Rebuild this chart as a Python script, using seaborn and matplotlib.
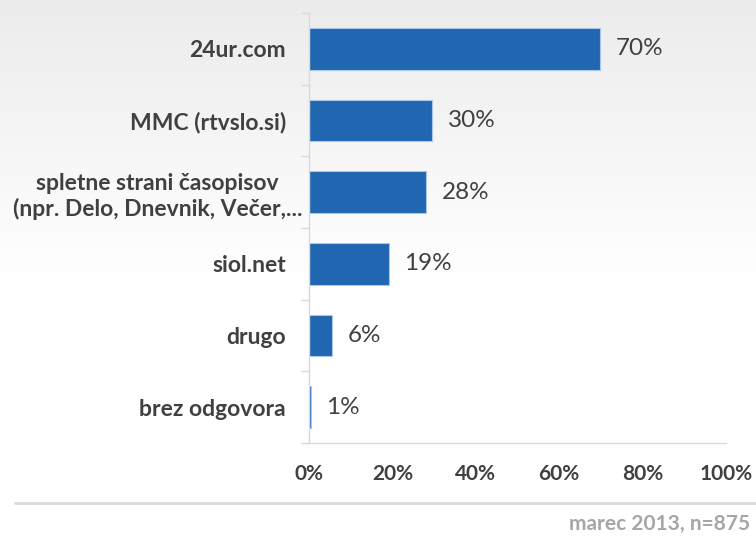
import numpy as np
import pandas as pd
import matplotlib
matplotlib.use("Agg")
import matplotlib.pyplot as plt
import seaborn as sns
from matplotlib.ticker import FixedLocator

categories = ["24ur.com", "MMC (rtvslo.si)",
              "spletne strani časopisov\n(npr. Delo, Dnevnik, Večer,...",
              "siol.net", "drugo", "brez odgovora"]
values = [69.8, 29.6, 28.1, 19.2, 5.6, 0.5]
value_labels = ["70%", "30%", "28%", "19%", "6%", "1%"]
xticks = [0, 20, 40, 60, 80, 100]
xtick_labels = ["0%", "20%", "40%", "60%", "80%", "100%"]
footer = "marec 2013, n=875"

sns.set_theme(style="white")
plt.rcParams['font.family'] = ['Lato', 'DejaVu Sans']

W, H = 756, 536
fig = plt.figure(figsize=(W / 100, H / 100), dpi=100)

# background gradient
bg = fig.add_axes([0, 0, 1, 1], zorder=-10)
n = 536
ys = np.arange(n)  # from top
top_val, white_at = 0.925, 280
g = np.where(ys < white_at, top_val + (1 - top_val) * ys / white_at, 1.0)
img = np.repeat(g[:, None], 3, axis=1)[:, None, :]
bg.imshow(img, aspect='auto', extent=[0, 1, 0, 1], origin='upper')
bg.set_axis_off()

left, right = 309 / W, 726 / W
top, bottom = 1 - 13 / H, 1 - 443 / H
ax = fig.add_axes([left, bottom, right - left, top - bottom])
ax.set_facecolor("none")

df = pd.DataFrame({"cat": categories, "val": values})
sns.barplot(data=df, x="val", y="cat", orient="h", ax=ax, color="#2166B0",
            saturation=1, width=0.585, edgecolor="#A9C6E8", linewidth=0.8)

ax.set_xlim(0, 100)
ax.set_ylim(len(categories) - 0.5, -0.5)
ax.set_xlabel("")
ax.set_ylabel("")

for sp in ["top", "right"]:
    ax.spines[sp].set_visible(False)
for sp in ["left", "bottom"]:
    ax.spines[sp].set_color("#d9d9d9")
    ax.spines[sp].set_linewidth(1.0)

ax.set_xticks(xticks)
ax.set_xticklabels(xtick_labels, fontsize=15, fontweight="bold", color="#404040")
ax.tick_params(axis="x", direction="in", length=5.8, width=1, color="#d9d9d9", pad=15)

ax.set_yticks(range(len(categories)))
ax.set_yticklabels(categories, fontsize=16.5, fontweight="bold", color="#404040")
ax.tick_params(axis="y", which="major", length=0, pad=16.5)
ax.yaxis.set_minor_locator(FixedLocator(np.arange(-0.5, len(categories), 1.0)))
ax.tick_params(axis="y", which="minor", direction="out", length=5.8, width=1, color="#d9d9d9", left=True)

for i, lab in enumerate(ax.get_yticklabels()):
    if "\n" in lab.get_text():
        lab.set_multialignment("center")
        lab.set_linespacing(1.25)
ax.yaxis.get_major_ticks()[2].set_pad(5)

for i, (v, lbl) in enumerate(zip(values, value_labels)):
    ax.annotate(lbl, xy=(v, i), xytext=(11, 0), textcoords="offset points",
                ha="left", va="center", fontsize=17.5, color="#404040")

# separator and footer
fig.add_artist(plt.Line2D([15 / W, 1], [1 - 503 / H, 1 - 503 / H], color="#dadada",
                          linewidth=2.0, transform=fig.transFigure))
fig.text(750 / W, 1 - 524 / H, footer, ha="right", va="center", fontsize=15,
         fontweight="bold", color="#a6a6a6")

fig.savefig("out.png", dpi=100)
